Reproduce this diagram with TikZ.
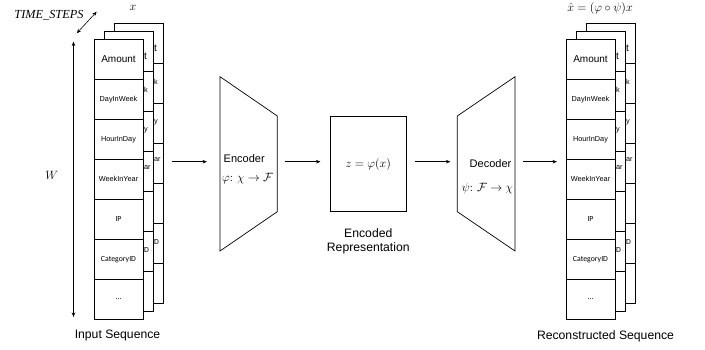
\documentclass[tikz,border=0pt]{standalone}
\usepackage{fontspec}
\setmainfont{Liberation Sans}
\newfontfamily\calfont{Carlito}
\newfontfamily\serfont{Liberation Serif}
\usetikzlibrary{arrows.meta}
\newcommand{\fA}{\fontsize{10}{12}\selectfont}
\newcommand{\fB}{\fontsize{7.3}{9}\selectfont}
\newcommand{\fC}{\calfont\fontsize{7.8}{9}\selectfont}
\newcommand{\seqstack}[2]{%
  \foreach \k in {2,1}{%
    \foreach \i in {0,...,6}{%
      \node[cell] (#2\k r\i) at (#1+118.5+10*\k, 59.3+40*\i-8*\k) {};
    }%
    \foreach \st/\lab/\yy [count=\j] in {\fA/t/56.5,\fB/k/90,\fB/y/130,\fB/ar/168,\fC/D/250}{%
      \node[frag] (#2\k f\j) at (#1+133.8+10*\k, \yy-8*\k+8) {\st\lab};
    }%
  }%
  \foreach \st/\lab [count=\i from 0] in {\fA/Amount,\fB/DayInWeek,\fB/HourInDay,\fB/WeekInYear,\fC/IP,\fC/CategoryID,\fC/\ldots}{%
    \node[cell] (#2 0r\i) at (#1+118.5, 59.3+40*\i) {\st\lab};
  }%
}
\tikzset{
  cell/.style={draw, fill=white, line width=0.7pt, minimum width=49pt, minimum height=40pt, inner sep=0pt},
  frag/.style={anchor=west, inner sep=0pt},
  arr/.style={-{Stealth[length=4.5pt,width=3.5pt]}, line width=0.6pt},
  darr/.style={{Stealth[length=4.5pt,width=3.5pt]}-{Stealth[length=4.5pt,width=3.5pt]}, line width=0.6pt},
  trap/.style={draw, line width=0.7pt},
  lbl/.style={font=\fontsize{12.2}{14}\selectfont, inner sep=0pt},
  mth/.style={font=\fontsize{12.5}{14}\selectfont, inner sep=0pt}
}
\begin{document}
\begin{tikzpicture}[x=1pt,y=-1pt]
\useasboundingbox (0,0) rectangle (705,350);
% stacks
\seqstack{0}{L}
\seqstack{472}{R}
% dimension arrows
\coordinate (ts1) at (76.7,33.3);
\coordinate (ts2) at (96.7,11.7);
\draw[darr] (ts1) -- (ts2);
\node[font=\serfont\itshape\fontsize{12.3}{13}\selectfont, inner sep=0pt] (tsl) at (49,15) {TIME\_STEPS};
\coordinate (w1) at (73.5,41.5);
\coordinate (w2) at (73.5,317);
\draw[darr] (w1) -- (w2);
\node[mth] (wl) at (51.7,175.5) {$W$};
\node[mth] (xl) at (133,8) {$x$};
\node[mth] (xhl) at (600,9) {$\hat{x}=(\varphi\circ\psi)x$};
% encoder
\draw[trap] (220,76.7) -- (277.3,116) -- (277.3,211.7) -- (220,251) -- cycle;
\node[font=\fontsize{11}{13}\selectfont, anchor=west, inner sep=0pt] (enc) at (223.5,158.5) {Encoder};
\node[mth, anchor=west] (encf) at (222,178.5) {$\varphi\colon\,\chi\rightarrow\mathcal{F}$};
% latent
\node[draw, line width=0.7pt, minimum width=76.7pt, minimum height=95.7pt, inner sep=0pt] (z) at (368.3,163.8) {};
\node[mth] (zt) at (368.3,165) {$z=\varphi(x)$};
\node[lbl, align=center] (zl) at (368.3,241.5) {Encoded\\[0pt]Representation};
% decoder
\draw[trap] (457.3,116) -- (515,76.7) -- (515,251) -- (457.3,211.7) -- cycle;
\node[font=\fontsize{11}{13}\selectfont, inner sep=0pt] (dec) at (490.5,164) {Decoder};
\node[mth] (decf) at (487.5,188.5) {$\psi\colon\,\mathcal{F}\rightarrow\chi$};
% arrows
\coordinate (a1s) at (172,161.7); \coordinate (a1e) at (207,161.7);
\coordinate (a2s) at (285,161.7); \coordinate (a2e) at (320.5,161.7);
\coordinate (a3s) at (415,161.7); \coordinate (a3e) at (450.5,161.7);
\coordinate (a4s) at (522.7,161.7); \coordinate (a4e) at (557,161.7);
\draw[arr] (a1s) -- (a1e);
\draw[arr] (a2s) -- (a2e);
\draw[arr] (a3s) -- (a3e);
\draw[arr] (a4s) -- (a4e);
% captions
\node[lbl] (inl) at (117.5,335.7) {Input Sequence};
\node[lbl] (outl) at (605.5,336) {Reconstructed Sequence};
\end{tikzpicture}
\end{document}
